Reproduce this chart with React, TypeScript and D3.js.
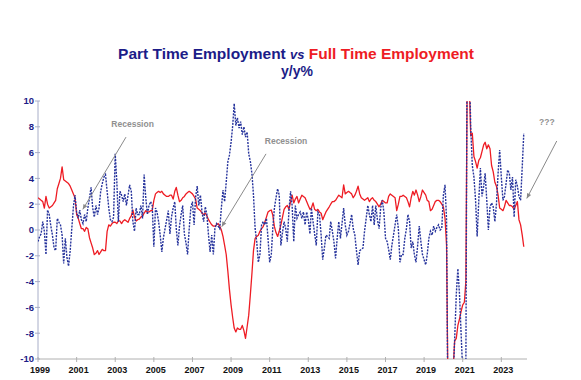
import React from "react";
import * as d3 from "d3";

const START_YEAR = 1999;

// Full time employment, y/y %, monthly from Jan 1999
const fullTime: number[] = [
  2.5, 2.4, 2.3, 2.2, 1.7, 2.6, 2.0, 1.7, 1.8, 1.9, 2.1, 2.3,
  3.2, 3.6, 4.0, 4.9, 3.9, 3.8, 3.7, 3.6, 3.4, 3.1, 2.8, 2.5,
  1.2, 0.9, 0.5, 0.1, 0.1, -0.1, 0.2, 0.1, -0.6, -1.0, -1.4, -1.9,
  -1.8, -1.6, -1.9, -1.7, -1.5, -1.6, -1.6, -0.1, 0.4, 0.3, 0.5, 0.6,
  0.6, 0.5, 0.7, 0.7, 0.5, 0.7, 0.8, 0.7, 0.6, 0.9, 1.1, 1.55,
  1.0, 0.7, 0.8, 0.85, 1.0, 1.1, 1.3, 1.5, 1.4, 1.4, 1.5, 1.5,
  2.3, 2.8, 2.9, 3.0, 2.9, 3.0, 2.8, 2.7, 2.6, 2.6, 2.7, 2.7,
  2.4, 3.0, 3.3, 2.7, 2.2, 2.3, 2.5, 2.6, 2.8, 2.9, 3.0, 2.9,
  2.8, 2.6, 2.4, 1.7, 1.6, 1.5, 1.3, 1.2, 1.3, 1.1, 0.8, 0.6,
  0.4, 0.3, 0.3, 0.4, 0.5, 0.3, 0.0, -0.5, -1.2, -1.9, -3.2, -4.6,
  -5.8, -6.8, -7.6, -7.9, -7.6, -7.7, -7.7, -7.4, -7.8, -8.4, -7.5, -6.6,
  -5.0, -3.3, -1.6, -0.65, -0.5, -0.4, -0.1, 0.1, 0.26, 0.6, 1.0, 1.4,
  1.5, 1.55, 1.16, 0.26, -0.2, -0.5, -0.1, 0.4, 1.0, 1.6, 1.8, 1.9,
  1.6, 2.2, 2.7, 2.1, 2.4, 2.6, 2.1, 2.4, 2.7, 2.6, 2.5, 2.2,
  1.9, 1.6, 1.7, 2.1, 1.6, 1.5, 1.6, 1.4, 1.3, 0.8, 1.1, 1.4,
  1.6, 1.8, 2.0, 2.2, 2.2, 2.3, 2.5, 2.7, 2.6, 2.5, 3.5, 2.8,
  2.9, 3.0, 2.9, 2.8, 2.5, 2.7, 3.0, 3.4, 2.8, 2.5, 2.4, 2.3,
  2.4, 2.5, 2.2, 2.4, 2.5, 2.3, 2.2, 2.0, 1.8, 2.0, 2.3, 2.2,
  2.1, 2.1, 2.6, 2.8, 2.7, 2.6, 2.5, 1.5, 2.0, 2.6, 2.6, 2.7,
  2.6, 2.5, 2.2, 1.8, 2.5, 3.0, 2.7, 3.1, 2.7, 2.2, 2.6, 3.1,
  2.9, 2.7, 2.3, 2.2, 1.5, 1.6, 1.9, 2.2, 2.3, 2.3, 2.2, 2.0,
  1.8, 0.9, -1.2, -14, -13, -12, -11, -8.6, -8.4, -7.4, -6.9, -6.3,
  -5.8, -5.6, -4.0, 15, 12, 7.3, 7.5, 5.7, 5.3, 4.8, 5.4, 5.6,
  6.1, 6.6, 6.8, 6.3, 6.6, 6.3, 5.0, 4.5, 3.7, 3.4, 2.7, 1.7,
  1.6, 1.5, 1.8, 2.3, 2.1, 1.9, 1.9, 1.8, 1.6, 1.9, 2.2, 0.8,
  0.4, -0.4, -1.3,
];

// Part time employment, y/y %, monthly from Jan 1999
const partTime: number[] = [
  -0.9, -0.5, -0.3, 0.65, -0.1, -1.9, 1.55, 1.2, 0.3, -0.4, -1.4, -1.6,
  0.9, 0.6, 0.4, -0.4, -2.6, -0.65, -2.1, -2.8, -1.6, 0.1, 1.8, 2.7,
  1.4, 0.9, 1.55, 0.8, 0.5, 1.2, 0.65, 1.7, 2.5, 3.3, 1.7, 1.0,
  1.9, 1.2, 1.7, 3.0, 3.6, 4.1, 4.3, 3.0, 1.7, 0.8, 0.65, 1.0,
  5.9, 3.7, 0.65, 3.0, 2.7, 2.2, 2.8, 1.9, 2.7, 3.5, 3.0, 0.65,
  -0.1, 1.7, 1.2, 1.2, 1.9, 0.9, 4.3, 2.5, 1.2, 1.9, 2.2, 1.9,
  -1.3, 1.7, 1.4, 0.65, -0.4, -1.7, -0.6, 0.1, 0.8, 1.5, -0.3, 1.0,
  1.7, 2.2, 0.1, -1.2, 0.3, 1.2, 1.9, -0.3, -1.0, -1.9, 0.1, 1.7,
  2.2, 0.4, 2.5, 3.4, 1.9, 2.7, 1.4, 0.65, 1.8, 1.2, -0.4, -1.7,
  -0.4, -1.9, 0.1, 0.5, 0.3, 0.1, 1.7, 3.1, 2.2, 3.7, 5.3, 5.8,
  6.8, 8.1, 9.8, 8.1, 8.7, 7.9, 8.4, 7.4, 8.0, 7.2, 7.6, 5.9,
  5.3, 4.3, 2.7, 0.1, -0.9, -2.5, -1.9, 0.4, 0.65, 0.4, 0.9, -0.65,
  -2.5, -1.9, 0.1, 1.7, 2.5, 3.2, 2.7, -1.2, -0.2, 0.65, 0.1, -0.9,
  1.5, 3.0, 1.9, -0.9, 1.9, 0.9, 1.2, 1.4, 0.9, 1.4, 0.4, 1.4,
  0.8, -0.3, 1.7, 0.65, -0.3, -1.2, 1.4, 1.2, -0.4, -2.3, -1.4, -0.4,
  -0.5, -0.65, 0.65, -0.1, -0.9, -2.2, -0.65, 0.65, -0.65, 0.5, 1.7, 0.4,
  -0.4, -0.1, 0.5, 1.2, 0.1, -0.4, -1.6, -2.7, -1.6, -1.5, -1.4, -0.1,
  0.9, 1.9, 1.2, 0.65, 1.9, 0.4, 1.9, 0.8, 0.1, 1.7, 2.3, 1.4,
  -0.65, -0.9, -1.5, -2.3, -1.2, -0.4, 0.4, 1.2, 0.1, -2.5, -1.9, -1.9,
  -0.65, 0.1, 1.2, 0.65, -1.4, -0.9, -1.9, -2.5, -1.2, 0.3, -0.9, -1.9,
  -2.3, -2.7, -1.9, -0.65, -0.1, -0.4, 0.3, -0.1, 0.2, 0.4, 0.0, 0.1,
  2.7, 3.5, 0.8, -18, -16, -14, -12, -8.5, -5.0, -3.0, -5.0, -8.0,
  -11, -12, -11, 22, 14, 8.0, 5.0, 4.1, 2.3, -0.5, 2.3, 4.8,
  2.6, 3.4, 4.4, 2.3, 0.0, 1.8, 2.1, 1.8, 0.65, 2.0, 4.4, 6.2,
  4.1, 2.3, 2.6, 3.6, 4.65, 4.4, 3.1, 4.1, 1.0, 3.9, 3.4, 2.6,
  2.3, 4.9, 7.5,
];

const yTicks: number[] = [-10, -8, -6, -4, -2, 0, 2, 4, 6, 8, 10];
const xTickYears: number[] = [1999, 2001, 2003, 2005, 2007, 2009, 2011, 2013, 2015, 2017, 2019, 2021, 2023];

// annotation text / arrow positions in data units (decimal year, y/y %)
const annotLabels: string[] = ["Recession", "Recession", "???"];
const annotTextPos: [number, number][] = [[2003.9, 8.2], [2011.85, 6.9], [2025.36, 8.4]];
const annotArrowFrom: [number, number][] = [[2003.56, 7.2], [2010.81, 5.9], [2025.87, 6.9]];
const annotArrowTo: [number, number][] = [[2001.32, 1.6], [2008.52, 0.26], [2024.32, 2.45]];

const monthDate = (i: number) => new Date(START_YEAR + Math.floor(i / 12), i % 12, 1);
const yearDate = (y: number) => {
  const yr = Math.floor(y);
  return new Date(yr, 0, 1 + Math.round((y - yr) * 365));
};

const NAVY = "#1c1c88";
const RED = "#ee1c24";
const FONT = "Arial, 'Liberation Sans', Helvetica, sans-serif";

export default function App() {
  const W = 581;
  const H = 380;
  const x = d3.scaleTime().domain([new Date(1999, 0, 1), new Date(2024, 4, 1)]).range([38, 527]);
  const y = d3.scaleLinear().domain([-10, 10]).range([359, 101]);
  const [x0, x1] = x.range();
  const [yb, yt] = y.range();

  const line = d3
    .line<number>()
    .x((_, i) => x(monthDate(i)))
    .y((d) => y(d));

  const arrowSize = 5;

  return (
    <svg
      width={W}
      height={H}
      style={{ position: "absolute", left: 0, top: 0, background: "#fff" }}
      fontFamily={FONT}
    >
      <defs>
        <clipPath id="plotclip">
          <rect x={x0} y={yt} width={x1 - x0} height={yb - yt} />
        </clipPath>
      </defs>
      <rect x={0} y={0} width={W} height={H} fill="#fff" />

      {/* Title */}
      <text x={296} y={58.5} textAnchor="middle" fontSize={15.5} fontWeight="bold">
        <tspan fill={NAVY}>Part Time Employment </tspan>
        <tspan fill={NAVY} fontStyle="italic" fontSize={13}>vs</tspan>
        <tspan fill={RED}> Full Time Employment</tspan>
      </text>
      <text x={297} y={75.5} textAnchor="middle" fontSize={14} fontWeight="bold" fill={NAVY}>
        y/y%
      </text>

      {/* Axes */}
      <line x1={x0} x2={x0} y1={yt} y2={yb} stroke="#a8aec8" strokeWidth={1} />
      <line x1={x0} x2={x1} y1={yb} y2={yb} stroke="#b0b0b0" strokeWidth={1} />
      {yTicks.map((t) => (
        <g key={"y" + t}>
          <line x1={x0 - 3} x2={x0 + 2} y1={y(t)} y2={y(t)} stroke="#a8aec8" />
          <text
            x={x0 - 4}
            y={y(t)}
            dy="0.35em"
            textAnchor="end"
            fontSize={9.5}
            fontWeight="bold"
            fill={NAVY}
          >
            {t}
          </text>
        </g>
      ))}
      {xTickYears.map((yr) => (
        <g key={"x" + yr}>
          <line x1={x(new Date(yr, 0, 1))} x2={x(new Date(yr, 0, 1))} y1={yb - 2} y2={yb + 3} stroke="#b0b0b0" />
          <text
            x={x(new Date(yr, 0, 1)) + 2}
            y={yb + 14}
            textAnchor="middle"
            fontSize={9}
            fontWeight="bold"
            fill="#111"
          >
            {yr}
          </text>
        </g>
      ))}

      {/* Series */}
      <g clipPath="url(#plotclip)">
        <path d={line(fullTime) || ""} fill="none" stroke={RED} strokeWidth={1.3} strokeLinejoin="round" />
        <path
          d={line(partTime) || ""}
          fill="none"
          stroke="#26339c"
          strokeWidth={1.4}
          strokeDasharray="2 1.2"
        />
      </g>

      {/* Annotations */}
      {annotLabels.map((lab, k) => {
        const fx = x(yearDate(annotArrowFrom[k][0]));
        const fy = y(annotArrowFrom[k][1]);
        const tx = x(yearDate(annotArrowTo[k][0]));
        const ty = y(annotArrowTo[k][1]);
        const ang = Math.atan2(ty - fy, tx - fx);
        const p1x = tx - arrowSize * Math.cos(ang) + (arrowSize / 2.2) * Math.sin(ang);
        const p1y = ty - arrowSize * Math.sin(ang) - (arrowSize / 2.2) * Math.cos(ang);
        const p2x = tx - arrowSize * Math.cos(ang) - (arrowSize / 2.2) * Math.sin(ang);
        const p2y = ty - arrowSize * Math.sin(ang) + (arrowSize / 2.2) * Math.cos(ang);
        return (
          <g key={"a" + k}>
            <text
              x={x(yearDate(annotTextPos[k][0]))}
              y={y(annotTextPos[k][1])}
              dy="0.35em"
              textAnchor="middle"
              fontSize={8.5}
              fontWeight="bold"
              fill="#909090"
            >
              {lab}
            </text>
            <line x1={fx} y1={fy} x2={tx} y2={ty} stroke="#8a8a8a" strokeWidth={1} />
            <polygon points={`${tx},${ty} ${p1x},${p1y} ${p2x},${p2y}`} fill="#8a8a8a" />
          </g>
        );
      })}
    </svg>
  );
}
